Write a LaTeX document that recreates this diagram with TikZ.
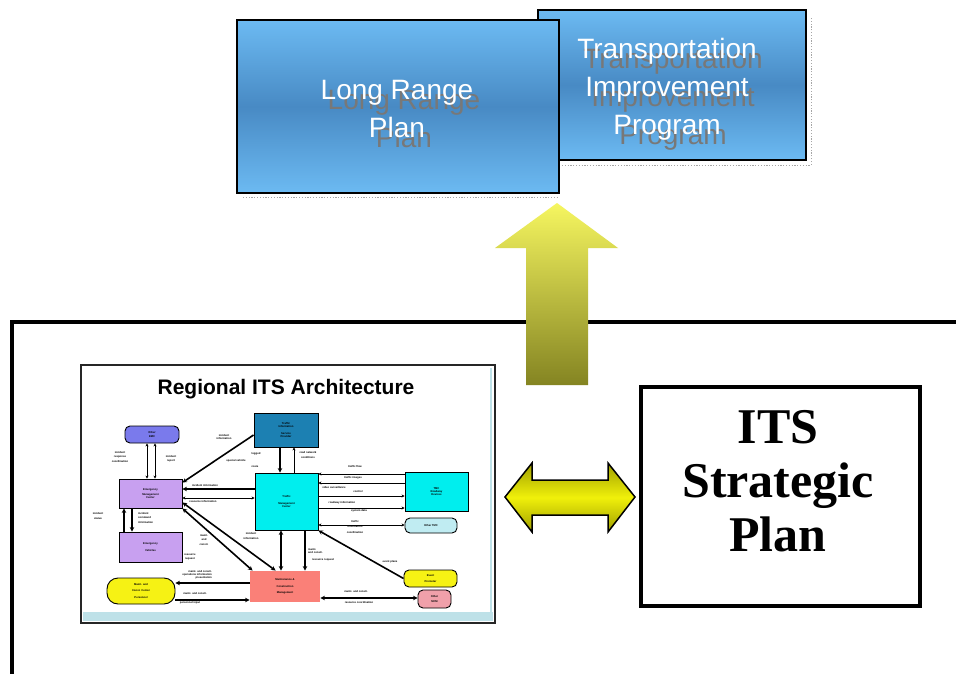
\documentclass[tikz,border=0pt]{standalone}
\usepackage{fontspec}
\setmainfont{Liberation Serif}
\newfontfamily\arial{Liberation Sans}
\usetikzlibrary{arrows.meta}
\definecolor{boxlight}{RGB}{108,186,242}
\definecolor{boxdark}{RGB}{72,138,196}
\definecolor{shadowgray}{RGB}{120,120,120}
\definecolor{arrtop}{RGB}{246,246,96}
\definecolor{arrbot}{RGB}{132,132,34}
\definecolor{dblmid}{RGB}{240,240,10}
\definecolor{dbledge}{RGB}{160,160,0}
\definecolor{archblue}{RGB}{190,225,232}
\definecolor{cemc}{RGB}{122,122,236}
\definecolor{ctisp}{RGB}{28,128,178}
\definecolor{clav}{RGB}{200,160,240}
\definecolor{ccyan}{RGB}{0,238,238}
\definecolor{clcyan}{RGB}{192,236,242}
\definecolor{cyell}{RGB}{246,242,20}
\definecolor{cpink}{RGB}{240,160,170}
\definecolor{csalmon}{RGB}{250,128,120}
\newcommand\topfont{\arial\fontsize{28}{38}\selectfont}
\newcommand\itsfont{\bfseries\fontsize{50}{54}\selectfont}
\newcommand\titlefont{\arial\bfseries\fontsize{21}{24}\selectfont}
\newcommand\ifont{\arial\bfseries\fontsize{2.7}{3.2}\selectfont}
\begin{document}
\begin{tikzpicture}[x=1pt,y=-1pt,
  tbox/.style={draw=black, line width=2.5, top color=boxlight, bottom color=boxlight, middle color=boxdark, inner sep=0},
  toptext/.style={text=white, align=center, font=\topfont, inner sep=0},
  shadowtext/.style={text=shadowgray, align=center, font=\topfont, inner sep=0},
  dotline/.style={draw=black!35, line width=0.9, dash pattern=on 1.2pt off 1.6pt},
  ibox/.style={draw=black, line width=0.9, inner sep=0, align=center, font=\ifont},
  rbox/.style={ibox, rounded corners=5},
  lbl/.style={font=\ifont, align=center, inner sep=0},
  con/.style={line width=0.8, >={Stealth[length=3pt,width=3pt]}},
  thk/.style={line width=1.6, >={Stealth[length=4.5pt,width=4.5pt]}}]
\useasboundingbox (0,0) rectangle (956,674);
\fill[white] (0,0) rectangle (956,674);

% dotted shadows of the top boxes
\draw[dotline] (243,197) -- (558,197);
\draw[dotline] (562,165) -- (811,165) -- (811,18);

% Transportation Improvement Program
\node[tbox, minimum width=268, minimum height=150] (tip) at (672,85) {};
\node[shadowtext] (tipS) at (673,99) {Transportation\\Improvement\\Program};
\node[toptext] (tipT) at (667,89) {Transportation\\Improvement\\Program};

% Long Range Plan
\node[tbox, minimum width=322, minimum height=173] (lrp) at (398,106.5) {};
\node[shadowtext] (lrpS) at (404,119) {Long Range\\Plan};
\node[toptext] (lrpT) at (397,109) {Long Range\\Plan};

% frame lines
\draw[line width=4] (960,322) -- (12,322) -- (12,678);

% up arrow
\shade[top color=arrtop, bottom color=arrbot]
  (557,203) -- (618,248) -- (588,248) -- (588,385) -- (526,385) -- (526,248) -- (495,248) -- cycle;

% double arrow
\shadedraw[draw=black, line width=1.5, top color=dbledge, bottom color=dbledge, middle color=dblmid]
  (505,497) -- (532,463) -- (532,480) -- (608,480) -- (608,463) -- (635,497)
  -- (608,532) -- (608,515) -- (532,515) -- (532,532) -- cycle;

% ITS Strategic Plan
\node[draw=black, line width=4, minimum width=279, minimum height=219] (its) at (780.5,496.5) {};
\node[align=center, font=\itsfont, inner sep=0] (itsT) at (778,481) {ITS\\Strategic\\Plan};

% Regional ITS Architecture picture
\node[draw=black!85, line width=1.6, fill=white, minimum width=414, minimum height=258, inner sep=0] (arch) at (288,494) {};
\fill[archblue] (83,612) rectangle (493,621);
\draw[archblue, line width=2] (491,368) -- (491,621);
\node[font=\titlefont, inner sep=0] (title) at (286,389) {Regional ITS Architecture};

\node[rbox, fill=cemc, minimum width=54, minimum height=17] (oemc) at (152,434.5) {Other\\EMC};
\node[ibox, fill=ctisp, minimum width=64, minimum height=34] (tisp) at (286,430) {Traffic\\Information\\[4pt]Service\\Provider};
\node[ibox, fill=clav, minimum width=63, minimum height=29] (emc) at (150.5,493.5) {Emergency\\[2pt]Management\\Center};
\node[ibox, fill=clav, minimum width=63, minimum height=30] (ev) at (150.5,547) {Emergency\\[4pt]Vehicles};
\node[ibox, fill=ccyan, minimum width=63, minimum height=57] (tmc) at (286.5,501.5) {Traffic\\[4pt]Management\\Center};
\node[ibox, fill=ccyan, minimum width=63, minimum height=39] (trd) at (436.5,491.5) {TMC\\Roadway\\Devices};
\node[rbox, fill=clcyan, minimum width=52, minimum height=15] (otmc) at (431,525.5) {Other TMC};
\node[rbox, fill=cyell, minimum width=53, minimum height=17] (ep) at (430.5,578.5) {Event\\[2pt]Promoter};
\node[rbox, fill=cpink, minimum width=33, minimum height=18] (omcm) at (434.5,599) {Other\\[2pt]MCM};
\node[ibox, draw=none, fill=csalmon, minimum width=70, minimum height=31] (mcm) at (285,586.5) {Maintenance \&\\[3pt]Construction\\[3pt]Management};
\node[ibox, fill=cyell, rounded corners=11, minimum width=68, minimum height=26] (mcp) at (141,591) {Maint. and\\[3pt]Const. Center\\[3pt]Personnel};

% connectors
\draw[con, <->] (147,0 |- oemc.south) -- (147,0 |- emc.north);
\draw[con, <->] (155,0 |- oemc.south) -- (155,0 |- emc.north);
\draw[thk, ->] ([yshift=-5]tisp.west) -- ([yshift=-4]emc.north east);
\draw[thk, ->] (280,0 |- tisp.south) -- (280,0 |- tmc.north);
\draw[con, <-] (294,0 |- tisp.south) -- (294,0 |- tmc.north);
\draw[thk, <-] (emc.east |- 0,489) -- (tmc.west |- 0,489);
\draw[con, <->] (emc.east |- 0,498) -- (tmc.west |- 0,498);
\draw[con, <-] (tmc.east |- 0,474) -- (trd.west |- 0,474);
\draw[con, <-] (tmc.east |- 0,483) -- (trd.west |- 0,483);
\draw[con, ->] (tmc.east |- 0,496) -- (trd.west |- 0,496);
\draw[con, ->] (tmc.east |- 0,508) -- (trd.west |- 0,508);
\draw[con, <->] (tmc.east |- 0,525) -- (otmc.west |- 0,525);
\draw[thk, <-] (tmc.south east) -- (ep.west);
\draw[thk, <->] (281,0 |- tmc.south) -- (281,0 |- mcm.north);
\draw[thk, ->] (305,0 |- tmc.south) -- (305,0 |- mcm.north);
\draw[thk, <->] ([yshift=6]emc.south east) -- ([xshift=26]mcm.north west);
\draw[thk, <->] (emc.south east) -- ([xshift=3]mcm.north west);
\draw[thk, ->] (124,0 |- ev.north) -- (124,0 |- emc.south);
\draw[thk, ->] (132,0 |- emc.south) -- (132,0 |- ev.north);
\draw[thk, ->] (mcm.west |- 0,583) -- (mcp.east |- 0,583);
\draw[thk, ->] (mcp.east |- 0,600) -- (mcm.west |- 0,600);
\draw[thk, <->] (mcm.east |- 0,598) -- (omcm.west |- 0,598);

% connector labels
\node[lbl] (l1) at (120,457) {incident\\[1pt]response\\[1pt]coordination};
\node[lbl] (l2) at (171,459) {incident\\[1pt]report};
\node[lbl] (l3) at (224,437) {incident\\information};
\node[lbl] (l4) at (236,461) {special vehicle};
\node[lbl] (l5) at (256,454) {logged};
\node[lbl] (l6) at (255,467) {route};
\node[lbl] (l7) at (308,455) {road network\\[1pt]conditions};
\node[lbl] (l8) at (205,486) {incident information};
\node[lbl] (l9) at (203,502) {resource information};
\node[lbl] (l10) at (355,467) {traffic flow};
\node[lbl] (l11) at (353,478) {traffic images};
\node[lbl] (l12) at (334,488) {video surveillance};
\node[lbl] (l13) at (358,492) {control};
\node[lbl] (l14) at (342,503) {roadway information};
\node[lbl] (l15) at (359,511) {system data};
\node[lbl] (l16) at (355,527) {traffic\\[2pt]information\\[2pt]coordination};
\node[lbl] (l17) at (390,562) {event plans};
\node[lbl, align=left, anchor=west] (l18) at (308,551) {maint.\\and constr.};
\node[lbl] (l19) at (323,560) {resource request};
\node[lbl] (l20) at (251,536) {incident\\[2pt]information};
\node[lbl] (l21) at (204,540) {maint.\\[1pt]and\\[1pt]constr.};
\node[lbl] (l22) at (98,516) {incident\\[1pt]status};
\node[lbl, align=left, anchor=west] (l23) at (138,518) {incident\\[1pt]command\\[1pt]information};
\node[lbl] (l24) at (190,557) {resource\\[1pt]request};
\node[lbl, align=right, anchor=east] (l25) at (212,575) {maint. and constr.\\operations information\\presentation};
\node[lbl] (l26) at (195,594) {maint. and constr.};
\node[lbl] (l27) at (190,603) {personnel input};
\node[lbl] (l28) at (356,592) {maint. and constr.};
\node[lbl] (l29) at (359,603) {resource coordination};
\end{tikzpicture}
\end{document}
